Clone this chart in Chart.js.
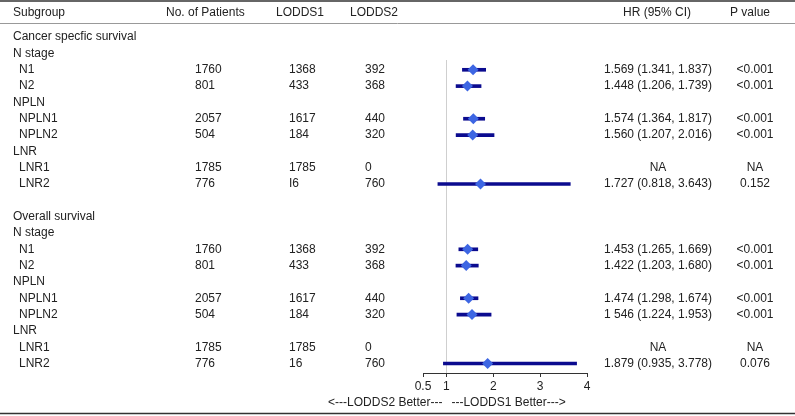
<!DOCTYPE html>
<html>
<head>
<meta charset="utf-8">
<script src="https://cdn.jsdelivr.net/npm/chart.js@4"></script>
<style>
  html, body { margin: 0; padding: 0; background: #fff; }
  #wrap { width: 795px; height: 416px; position: relative; }
</style>
</head>
<body>
<div id="wrap"><canvas id="forestChart"></canvas></div>
<script>
// Données du tableau
const rowLabels = ['Cancer specfic survival', 'N stage', 'N1', 'N2', 'NPLN', 'NPLN1', 'NPLN2', 'LNR', 'LNR1', 'LNR2', '',
                   'Overall survival', 'N stage', 'N1', 'N2', 'NPLN', 'NPLN1', 'NPLN2', 'LNR', 'LNR1', 'LNR2'];
const rowIndent = [0, 0, 1, 1, 0, 1, 1, 0, 1, 1, 0, 0, 0, 1, 1, 0, 1, 1, 0, 1, 1];
const patients = ['', '', '1760', '801', '', '2057', '504', '', '1785', '776', '',
                  '', '', '1760', '801', '', '2057', '504', '', '1785', '776'];
const lodds1 = ['', '', '1368', '433', '', '1617', '184', '', '1785', 'I6', '',
                '', '', '1368', '433', '', '1617', '184', '', '1785', '16'];
const lodds2 = ['', '', '392', '368', '', '440', '320', '', '0', '760', '',
                '', '', '392', '368', '', '440', '320', '', '0', '760'];
const hrText = ['', '', '1.569 (1.341, 1.837)', '1.448 (1.206, 1.739)', '', '1.574 (1.364, 1.817)', '1.560 (1.207, 2.016)', '', 'NA', '1.727 (0.818, 3.643)', '',
                '', '', '1.453 (1.265, 1.669)', '1.422 (1.203, 1.680)', '', '1.474 (1.298, 1.674)', '1 546 (1.224, 1.953)', '', 'NA', '1.879 (0.935, 3.778)'];
const pText = ['', '', '<0.001', '<0.001', '', '<0.001', '<0.001', '', 'NA', '0.152', '',
               '', '', '<0.001', '<0.001', '', '<0.001', '<0.001', '', 'NA', '0.076'];
const hr = [null, null, 1.569, 1.448, null, 1.574, 1.560, null, null, 1.727, null,
            null, null, 1.453, 1.422, null, 1.474, 1.546, null, null, 1.879];
const ciLow = [null, null, 1.341, 1.206, null, 1.364, 1.207, null, null, 0.818, null,
               null, null, 1.265, 1.203, null, 1.298, 1.224, null, null, 0.935];
const ciHigh = [null, null, 1.837, 1.739, null, 1.817, 2.016, null, null, 3.643, null,
                null, null, 1.669, 1.680, null, 1.674, 1.953, null, null, 3.778];
const xTicks = [0.5, 1, 2, 3, 4];
const headers = ['Subgroup', 'No. of Patients', 'LODDS1', 'LODDS2', 'HR (95% CI)', 'P value'];

const FONT = '12px "Liberation Sans", Arial, sans-serif';
const TEXT = '#222';

const ciData = [];
const hrData = [];
hr.forEach((v, i) => {
    if (v === null) return;
    ciData.push({ y: i, x: [ciLow[i], ciHigh[i]] });
    hrData.push({ y: i, x: v });
});

// Texte du tableau
const tablePlugin = {
    id: 'tableText',
    afterDraw(chart) {
        const ctx = chart.ctx;
        const y = chart.scales.y;
        ctx.save();
        ctx.font = FONT;
        ctx.fillStyle = TEXT;
        ctx.textBaseline = 'middle';

        // en-têtes
        ctx.textAlign = 'left';
        ctx.fillText(headers[0], 13, 13);
        ctx.fillText(headers[1], 166, 13);
        ctx.fillText(headers[2], 276, 13);
        ctx.fillText(headers[3], 350, 13);
        ctx.textAlign = 'center';
        ctx.fillText(headers[4], 657, 13);
        ctx.fillText(headers[5], 750, 13);

        rowLabels.forEach((lab, i) => {
            const py = y.getPixelForValue(i);
            ctx.textAlign = 'left';
            ctx.fillText(lab, rowIndent[i] ? 19 : 13, py);
            ctx.fillText(patients[i], 195, py);
            ctx.fillText(lodds1[i], 289, py);
            ctx.fillText(lodds2[i], 365, py);
            ctx.textAlign = 'center';
            ctx.fillText(hrText[i], 658, py);
            ctx.fillText(pText[i], 755, py);
        });

        // flèches sous l'axe
        const x1 = chart.scales.x.getPixelForValue(1);
        ctx.textAlign = 'right';
        ctx.fillText('<---LODDS2 Better---', x1 - 4, 403);
        ctx.textAlign = 'left';
        ctx.fillText('---LODDS1 Better--->', x1 + 5, 403);

        // traits du tableau
        ctx.strokeStyle = '#333';
        ctx.lineWidth = 1.5;
        ctx.beginPath(); ctx.moveTo(0, 1); ctx.lineTo(795, 1); ctx.stroke();
        ctx.beginPath(); ctx.moveTo(0, 413.5); ctx.lineTo(795, 413.5); ctx.stroke();
        ctx.strokeStyle = '#999';
        ctx.lineWidth = 1;
        ctx.beginPath(); ctx.moveTo(0, 23.5); ctx.lineTo(795, 23.5); ctx.stroke();
        ctx.restore();
    }
};

const chart = new Chart(document.getElementById('forestChart').getContext('2d'), {
    type: 'bar',
    data: {
        datasets: [{
            type: 'bar',
            label: '95% CI',
            data: ciData,
            backgroundColor: '#0b0b8f',
            borderWidth: 0,
            barThickness: 3,
            order: 2
        }, {
            type: 'scatter',
            label: 'HR',
            data: hrData,
            pointStyle: 'rectRot',
            pointRadius: 5.5,
            backgroundColor: '#3d66e3',
            borderColor: '#3d66e3',
            borderWidth: 0,
            order: 1
        }]
    },
    options: {
        indexAxis: 'y',
        responsive: true,
        maintainAspectRatio: false,
        animation: false,
        layout: { padding: { left: 423, right: 208, top: 60, bottom: 0 } },
        plugins: { legend: { display: false }, tooltip: { enabled: false } },
        scales: {
            x: {
                type: 'linear',
                min: 0.5,
                max: 4,
                afterBuildTicks: s => { s.ticks = xTicks.map(v => ({ value: v })); },
                afterFit: s => { s.height = 43; },
                border: { display: true, color: '#333', width: 1 },
                grid: {
                    color: c => (c.tick && c.tick.value === 1 ? '#cfcfcf' : 'rgba(0,0,0,0)'),
                    tickColor: '#333',
                    tickLength: 4,
                    drawOnChartArea: true
                },
                ticks: {
                    color: TEXT,
                    font: { family: '"Liberation Sans", Arial, sans-serif', size: 12 },
                    padding: 2,
                    maxRotation: 0,
                    autoSkip: false
                }
            },
            y: {
                type: 'linear',
                reverse: true,
                offset: false,
                grace: 0,
                beginAtZero: false,
                min: 1.40,
                max: 20.58,
                display: false
            }
        }
    },
    plugins: [tablePlugin]
});
</script>
</body>
</html>
